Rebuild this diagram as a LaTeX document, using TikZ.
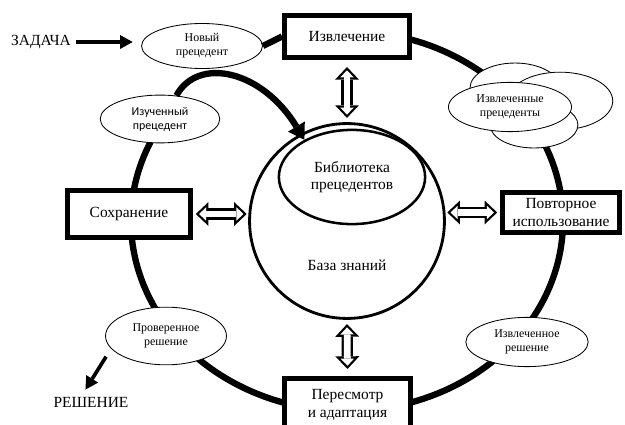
\documentclass[tikz,border=0pt]{standalone}
\usepackage{fontspec}
\setmainfont{Liberation Serif}
\newfontfamily\calibri{Carlito}
\usetikzlibrary{arrows.meta,positioning,shapes.geometric}
\tikzset{stage/.style={draw,line width=3.5pt,fill=white,align=center,inner sep=1pt,
                       font=\fontsize{11}{12.5}\selectfont},
        case/.style={draw,ellipse,line width=0.6pt,fill=white,align=center,inner sep=0pt,
                     font=\fontsize{8.5}{10}\selectfont},
        ring/.style={line width=4.5pt},
        exchange/.style={line width=8pt,
            {Triangle[length=9pt,width=17pt,line width=0pt]}-{Triangle[length=9pt,width=17pt,line width=0pt]},
            postaction={draw=white,line width=4.8pt,shorten <=2.33pt,shorten >=2.33pt,
            {Triangle[length=5.07pt,width=9.6pt,line width=0pt]}-{Triangle[length=5.07pt,width=9.6pt,line width=0pt]}}},
        flow/.style={line width=2.6pt,-{Triangle[length=9pt,width=10pt,line width=0pt]}},
        plain/.style={font=\fontsize{11}{12.5}\selectfont,align=center},
        }

\begin{document}
\begin{tikzpicture}[x=0.025cm,y=-0.025cm]
    \useasboundingbox (0,0) rectangle (625,425);

    % cycle
    \draw[ring] (347,221) ++(210:216 and 190)
        arc[start angle=210,end angle=-80,x radius=216,y radius=190];

    % knowledge base
    \node[draw,circle,line width=2pt,minimum size=138.6pt] (kb) at (347,221) {};
    \node[plain] (kbtext) at (347,265) {База знаний};
    \node[draw,ellipse,line width=1.8pt,minimum width=104pt,minimum height=67pt,
          inner sep=0pt,plain] (lib) at (352,177) {Библиотека\\прецедентов};

    % stages
    \node[stage,minimum width=88.9pt,minimum height=29.9pt] (extr) at (347,36.5) {Извлечение};
    \node[stage,minimum width=87.5pt,minimum height=33.4pt] (save) at (129,214) {Сохранение};
    \node[stage,minimum width=83.2pt,minimum height=28.4pt] (reuse) at (561,212.5) {Повторное\\использование};
    \node[stage,minimum width=89.6pt,minimum height=37.7pt] (revise) at (347.5,405) {Пересмотр\\и адаптация};

    % cases
    \node[case,minimum width=86pt,minimum height=32pt] (new) at (202,46) {Новый\\прецедент};
    \node[case,minimum width=85pt,minimum height=34pt,font=\calibri\fontsize{8.5}{10}\selectfont]
        (learned) at (160,119) {Изученный\\прецедент};
    \node[case,minimum width=86pt,minimum height=41pt] (verified) at (166,336) {Проверенное\\решение};
    \node[case,minimum width=87pt,minimum height=35pt] (solved) at (527,342) {Извлеченное\\решение};
    \node[case,minimum width=64pt,minimum height=35.5pt] (cloudtop) at (515,88) {};
    \node[case,minimum width=75pt,minimum height=41pt] (cloudright) at (560,101) {};
    \node[case,minimum width=62.5pt,minimum height=32.7pt] (cloudbottom) at (534,125) {};
    \node[case,minimum width=87.5pt,minimum height=35pt] (found) at (510,107) {Извлеченные\\прецеденты};

    % input and output
    \node[plain] (task) at (41,42) {ЗАДАЧА};
    \node[plain] (sol) at (91,402) {РЕШЕНИЕ};
    \draw[flow] (task.east) -- ([xshift=-6pt]task.east -| new.west);
    \draw[flow,shorten >=2pt] ([xshift=-12]verified.south west) -- ([xshift=-5]sol.north);
    \draw[ring] (new.east) -- (extr.west);

    % learned case into library
    \draw[line width=4.5pt,-{Triangle[length=11pt,width=14pt,line width=0pt]}]
        (learned.55) .. controls (198,56) and (262,70) .. (lib.142);

    % exchange with knowledge base
    \draw[exchange] ([yshift=-5pt]extr.south) -- ([yshift=3pt]kb.north);
    \draw[exchange] ([yshift=5pt]revise.north) -- ([yshift=-3pt]kb.south);
    \draw[exchange] ([xshift=2pt]save.east) -- ([xshift=-1pt]save.east -| kb.west);
    \draw[exchange] ([xshift=-2pt]reuse.west) -- ([xshift=1pt]reuse.west -| kb.east);
\end{tikzpicture}
\end{document}
